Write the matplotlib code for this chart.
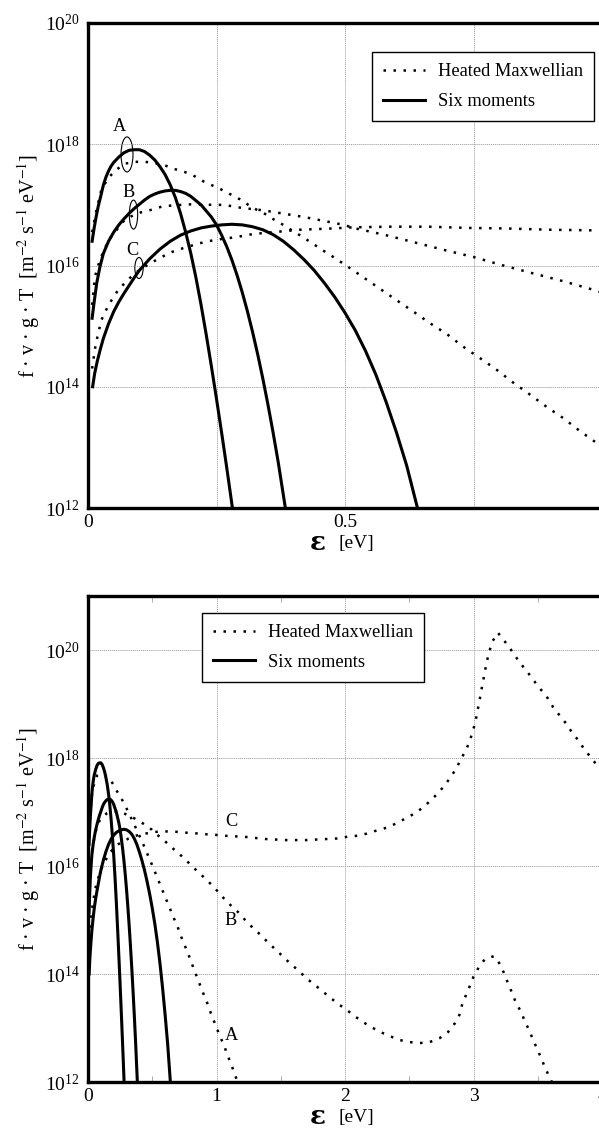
import numpy as np
import matplotlib
matplotlib.use("Agg")
import matplotlib.pyplot as plt
from matplotlib.patches import Ellipse
from matplotlib.ticker import NullLocator, FixedLocator

plt.rcParams['font.family'] = ['Liberation Serif', 'DejaVu Serif']
plt.rcParams['mathtext.fontset'] = 'stix'

# ---- data (energy in eV, value as log10) ----
# six moments
six_a_e = [0.008, 0.012, 0.016, 0.02, 0.025, 0.03, 0.035, 0.04, 0.045, 0.05, 0.06, 0.07,
           0.08, 0.09, 0.10, 0.11, 0.12, 0.13, 0.14, 0.15, 0.16, 0.17, 0.18, 0.19, 0.20,
           0.21, 0.22, 0.23, 0.24, 0.25, 0.26, 0.27, 0.281]
six_a_lg = [16.40, 16.62, 16.81, 16.98, 17.15, 17.33, 17.46, 17.56, 17.64, 17.70, 17.79, 17.86,
            17.90, 17.91, 17.91, 17.88, 17.82, 17.74, 17.63, 17.50, 17.33, 17.12, 16.86, 16.55, 16.20,
            15.80, 15.35, 14.86, 14.34, 13.80, 13.24, 12.66, 12.0]

six_b_e = [0.008, 0.012, 0.017, 0.023, 0.03, 0.04, 0.05, 0.06, 0.07, 0.08, 0.09, 0.10,
           0.11, 0.12, 0.13, 0.14, 0.15, 0.16, 0.17, 0.18, 0.19, 0.20, 0.21, 0.22, 0.23,
           0.24, 0.25, 0.26, 0.27, 0.28, 0.29, 0.30, 0.31, 0.32, 0.33, 0.34, 0.35, 0.36,
           0.37, 0.384]
six_b_lg = [15.13, 15.40, 15.71, 15.97, 16.20, 16.40, 16.55, 16.67, 16.77, 16.86, 16.94, 17.01,
            17.08, 17.14, 17.18, 17.21, 17.23, 17.24, 17.24, 17.22, 17.19, 17.14, 17.07, 17.00, 16.90,
            16.80, 16.67, 16.50, 16.31, 16.09, 15.84, 15.56, 15.25, 14.91, 14.54, 14.14, 13.71, 13.25,
            12.76, 12.0]

six_c_e = [0.009, 0.013, 0.018, 0.024, 0.03, 0.04, 0.05, 0.06, 0.07, 0.08, 0.09, 0.10,
           0.12, 0.14, 0.16, 0.18, 0.20, 0.22, 0.24, 0.26, 0.28, 0.30, 0.32, 0.34, 0.36,
           0.38, 0.40, 0.42, 0.44, 0.46, 0.48, 0.50, 0.52, 0.54, 0.56, 0.58, 0.60, 0.62, 0.641]
six_c_lg = [14.0, 14.22, 14.42, 14.62, 14.80, 15.04, 15.24, 15.40, 15.54, 15.67, 15.80, 15.92,
            16.11, 16.27, 16.40, 16.50, 16.57, 16.62, 16.65, 16.67, 16.68, 16.67, 16.64, 16.59, 16.51,
            16.40, 16.26, 16.10, 15.92, 15.71, 15.48, 15.22, 14.93, 14.59, 14.20, 13.75, 13.25, 12.70,
            12.0]

# heated maxwellian
max_a_e = [0.008, 0.016, 0.026, 0.04, 0.055, 0.072, 0.091, 0.111, 0.13, 0.15, 0.169, 0.189,
           0.208, 0.224, 0.242, 0.26, 0.278, 0.296, 0.312, 0.328, 0.347, 0.365, 0.382,
           0.40, 0.416, 0.432, 0.45, 0.466, 0.483, 0.50, 0.516, 0.60, 0.633, 0.665, 0.698,
           0.73, 0.763, 0.795, 0.827, 0.86, 0.892, 0.925, 0.957, 0.99, 1.026, 1.06, 1.085,
           1.116, 1.142, 1.165]
max_a_lg = [16.55, 16.90, 17.25, 17.45, 17.58, 17.68, 17.71, 17.71, 17.69, 17.65, 17.59, 17.54,
            17.47, 17.39, 17.32, 17.25, 17.17, 17.09, 17.00, 16.92, 16.84, 16.74, 16.66,
            16.56, 16.48, 16.39, 16.29, 16.20, 16.11, 16.01, 15.92, 15.43, 15.24, 15.05, 14.87,
            14.66, 14.47, 14.28, 14.07, 13.87, 13.67, 13.48, 13.27, 13.07, 12.85, 12.67, 12.50,
            12.32, 12.14, 12.0]

max_b_e = [0.008, 0.0136, 0.023, 0.033, 0.043, 0.056, 0.072, 0.091, 0.104, 0.124, 0.143,
           0.163, 0.182, 0.202, 0.243, 0.262, 0.279, 0.299, 0.341, 0.42, 0.498, 0.516,
           0.575, 0.636, 0.691, 0.75, 0.808, 0.866, 0.925, 0.983, 1.065, 1.12, 1.18, 1.233,
           1.29, 1.35, 1.406, 1.466, 1.523, 1.58, 1.64, 1.70, 1.764, 1.82, 1.886, 1.945,
           2.01, 2.075, 2.14, 2.21, 2.28, 2.35, 2.42, 2.50, 2.58, 2.66, 2.735, 2.80, 2.85,
           2.89, 2.91, 2.94, 2.97, 3.00, 3.04, 3.09, 3.16, 3.21, 3.24, 3.27, 3.30, 3.33,
           3.37, 3.40, 3.435, 3.465, 3.50, 3.53, 3.56, 3.595, 3.61]
max_b_lg = [15.35, 15.82, 16.09, 16.29, 16.45, 16.59, 16.76, 16.84, 16.88, 16.92, 16.97,
            16.99, 17.00, 17.01, 17.00, 17.00, 16.98, 16.95, 16.91, 16.80, 16.67, 16.62,
            16.51, 16.38, 16.26, 16.14, 16.00, 15.87, 15.74, 15.60, 15.38, 15.25, 15.12, 14.97,
            14.84, 14.71, 14.57, 14.44, 14.31, 14.18, 14.06, 13.92, 13.80, 13.69, 13.56, 13.45,
            13.34, 13.22, 13.11, 13.01, 12.92, 12.85, 12.78, 12.74, 12.72, 12.74, 12.81, 12.92, 13.07,
            13.24, 13.42, 13.60, 13.77, 13.95, 14.12, 14.28, 14.33, 14.17, 14.00, 13.82, 13.65, 13.47,
            13.30, 13.12, 12.95, 12.77, 12.59, 12.42, 12.25, 12.07, 12.0]

max_c_e = [0.008, 0.015, 0.026, 0.04, 0.059, 0.075, 0.091, 0.121, 0.14, 0.156, 0.175, 0.195,
           0.214, 0.234, 0.253, 0.273, 0.296, 0.315, 0.335, 0.412, 0.474, 0.516, 0.585,
           0.663, 0.74, 0.818, 0.90, 0.98, 1.06, 1.14, 1.22, 1.30, 1.38, 1.46, 1.54, 1.62,
           1.70, 1.78, 1.86, 1.94, 2.015, 2.095, 2.17, 2.25, 2.325, 2.40, 2.47, 2.54, 2.605,
           2.665, 2.72, 2.775, 2.82, 2.865, 2.90, 2.94, 2.97, 2.995, 3.015, 3.03, 3.046,
           3.06, 3.075, 3.09, 3.105, 3.125, 3.15, 3.19, 3.24, 3.29, 3.336, 3.38, 3.43, 3.48,
           3.53, 3.58, 3.62, 3.67, 3.72, 3.765, 3.815, 3.86, 3.91, 3.96, 4.0]
max_c_lg = [14.30, 14.70, 15.10, 15.35, 15.60, 15.74, 15.87, 16.04, 16.12, 16.20, 16.26, 16.31,
            16.36, 16.40, 16.43, 16.45, 16.48, 16.51, 16.53, 16.59, 16.61, 16.63, 16.64,
            16.64, 16.62, 16.61, 16.59, 16.58, 16.56, 16.55, 16.54, 16.52, 16.50, 16.49, 16.48, 16.48,
            16.48, 16.49, 16.50, 16.51, 16.54, 16.56, 16.60, 16.66, 16.71, 16.79, 16.88, 16.97, 17.08,
            17.21, 17.34, 17.49, 17.64, 17.80, 17.97, 18.14, 18.31, 18.50, 18.67, 18.86, 19.05,
            19.24, 19.43, 19.62, 19.80, 19.99, 20.17, 20.32, 20.17, 20.01, 19.85, 19.71, 19.56, 19.40,
            19.25, 19.10, 18.94, 18.79, 18.64, 18.48, 18.33, 18.17, 18.02, 17.87, 17.75]

six_curves = [(six_a_e, six_a_lg), (six_b_e, six_b_lg), (six_c_e, six_c_lg)]
max_curves = [(max_a_e, max_a_lg), (max_b_e, max_b_lg), (max_c_e, max_c_lg)]

FS = 13.2
dot_style = (0, (1, 3))

fig = plt.figure(figsize=(5.99, 11.28), dpi=100)
ax1 = fig.add_axes([88 / 599, 620 / 1128, 514 / 599, 485 / 1128])
ax2 = fig.add_axes([88 / 599, 46 / 1128, 514 / 599, 486 / 1128])


def draw(ax, eps_y):
    for i, (e, lg) in enumerate(max_curves):
        ax.plot(e, 10.0 ** np.array(lg), color='black', lw=1.8, linestyle=dot_style,
                label='Heated Maxwellian' if i == 0 else None)
    for i, (e, lg) in enumerate(six_curves):
        ax.plot(e, 10.0 ** np.array(lg), color='black', lw=2.2,
                label='Six moments' if i == 0 else None)
    ax.set_yscale('log')
    for s in ax.spines.values():
        s.set_linewidth(2.4)
    ax.yaxis.set_minor_locator(NullLocator())
    ax.tick_params(axis='both', which='major', length=0, labelsize=14, pad=6)
    ax.tick_params(axis='x', which='major', pad=4)
    ax.grid(True, which='major', color='#999999', linestyle=(0, (1, 1)), lw=0.7)
    ax.set_ylabel('f · v · g · T  [m$^{-2}$ s$^{-1}$ eV$^{-1}$]', fontsize=14.5)
    ax.yaxis.set_label_coords(-0.09, 0.5)
    ax.text(0.447, eps_y, 'ε', transform=ax.transAxes, fontsize=19, fontweight='bold',
            ha='center', va='center', family='DejaVu Serif')
    ax.text(0.523, eps_y - 0.002, '[eV]', transform=ax.transAxes, fontsize=14,
            ha='center', va='center')
    leg = ax.legend(fontsize=FS, handlelength=2.3, handletextpad=0.7, labelspacing=0.7,
                    borderpad=0.6, fancybox=False, edgecolor='black', framealpha=1,
                    borderaxespad=0)
    leg.get_frame().set_linewidth(1.0)
    return leg


# top panel
leg1 = draw(ax1, -0.072)
ax1.set_xlim(0, 1)
ax1.set_ylim(1e12, 1e20)
ax1.set_yticks([1e12, 1e14, 1e16, 1e18, 1e20])
ax1.xaxis.set_major_locator(FixedLocator([0, 0.25, 0.5, 0.75, 1.0]))
ax1.set_xticklabels(['0', '', '0.5', '', ''])
leg1.set_loc('upper right')
leg1.set_bbox_to_anchor((0.984, 0.940), transform=ax1.transAxes)

ellipses = [(0.0759, 0.729, 0.0233, 0.0722), (0.0885, 0.605, 0.0162, 0.0598),
            (0.0992, 0.4948, 0.0162, 0.0433)]
for cx, cy, w, h in ellipses:
    ax1.add_patch(Ellipse((cx, cy), w, h, transform=ax1.transAxes, fill=False,
                          edgecolor='black', lw=0.8))
for lab, tx, ty in [('A', 0.0603, 0.7856), ('B', 0.0798, 0.6495), ('C', 0.0856, 0.5299)]:
    ax1.text(tx, ty, lab, transform=ax1.transAxes, fontsize=FS, ha='center', va='center')

# bottom panel
leg2 = draw(ax2, -0.071)
ax2.set_xlim(0, 4)
ax2.set_ylim(1e12, 1e21)
ax2.set_yticks([1e12, 1e14, 1e16, 1e18, 1e20])
ax2.set_xticks([0, 1, 2, 3, 4])
ax2.xaxis.set_minor_locator(FixedLocator([0.5, 1.5, 2.5, 3.5]))
ax2.tick_params(axis='x', which='minor', direction='in', length=4, width=0.7,
                color='#aaaaaa', top=True, bottom=True)
leg2.set_loc('upper left')
leg2.set_bbox_to_anchor((0.222, 0.965), transform=ax2.transAxes)

for lab, tx, ty in [('C', 0.278, 0.536), ('B', 0.278, 0.333), ('A', 0.279, 0.0967)]:
    ax2.text(tx, ty, lab, transform=ax2.transAxes, fontsize=FS, ha='center', va='center')

fig.savefig('out.png', dpi=100)
